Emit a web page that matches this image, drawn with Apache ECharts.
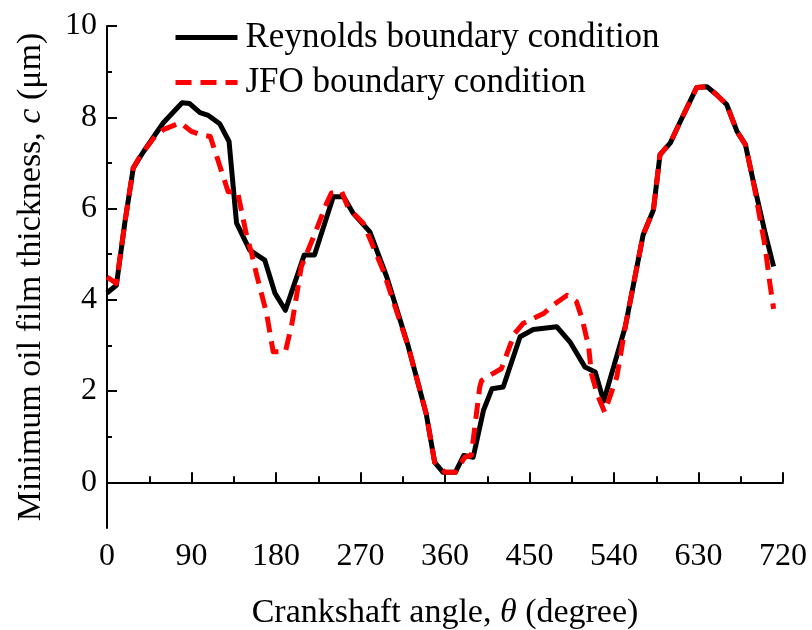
<!DOCTYPE html>
<html><head><meta charset="utf-8">
<script src="https://cdn.jsdelivr.net/npm/echarts@6/dist/echarts.min.js"></script>
<style>html,body{margin:0;padding:0;background:#fff}#c{width:812px;height:630px}</style>
</head><body><div id="c"></div>
<script>
const seriesNames = ['Reynolds boundary condition', 'JFO boundary condition'];
const reyAngle = [0,10,19,28,39,60,80,88,99,108,120,130,138,152,168,179,190,210,221,241,252,262,280,298,321,340,349,358,371,380,390,401,410,422,440,454,479,493,509,520,529,552,571,582,589,600,610,628,639,649,660,671,680,688,701,710];
const reyThick = [4.15,4.32,5.69,6.89,7.25,7.88,8.32,8.30,8.10,8.04,7.86,7.47,5.68,5.09,4.87,4.14,3.77,4.98,4.98,6.26,6.26,5.90,5.49,4.50,2.97,1.50,0.44,0.22,0.22,0.59,0.55,1.58,2.05,2.09,3.19,3.35,3.41,3.08,2.53,2.42,1.78,3.41,5.42,5.97,7.18,7.44,7.88,8.65,8.67,8.50,8.28,7.69,7.40,6.63,5.46,4.73];
const jfoAngle = [0,10,19,28,35,51,60,78,90,99,110,129,139,149,154,159,170,177,190,197,207,220,234,239,250,257,273,294,321,340,349,360,371,381,388,397,399,408,420,434,443,465,475,490,500,506,513,516,522,530,543,552,571,582,589,600,610,628,639,649,660,671,680,688,701,706,710];
const jfoThick = [4.50,4.36,5.69,6.89,7.14,7.58,7.73,7.88,7.69,7.62,7.58,6.37,6.37,5.38,5.02,4.58,3.70,2.86,2.86,3.48,4.73,5.38,6.12,6.34,6.37,6.01,5.68,4.65,2.97,1.50,0.44,0.22,0.22,0.55,0.59,2.09,2.23,2.35,2.49,3.26,3.48,3.70,3.88,4.10,3.96,3.59,2.97,2.38,1.94,1.54,2.31,3.41,5.42,5.97,7.18,7.44,7.88,8.65,8.67,8.50,8.28,7.69,7.40,6.63,5.16,4.36,3.80];
const yTicks = [0, 2, 4, 6, 8, 10];
const yMinorTicks = [1, 3, 5, 7, 9];

const FONT = 'Liberation Serif';
const pair = (xs, ys) => xs.map((x, i) => [x, ys[i]]);

const chart = echarts.init(document.getElementById('c'), null, {renderer: 'canvas'});
chart.setOption({
  animation: false,
  backgroundColor: '#fff',
  textStyle: {fontFamily: FONT},
  grid: {left: 107, right: 29, top: 26, bottom: 102, containLabel: false, outerBoundsMode: 'none'},
  legend: {
    orient: 'vertical', left: 168, top: 15, itemWidth: 62, itemHeight: 14, itemGap: 10,
    itemStyle: {opacity: 0},
    lineStyle: {width: 5},
    textStyle: {fontFamily: FONT, fontSize: 35, color: '#000', lineHeight: 35, padding: [0, 0, 0, 3]},
    data: seriesNames
  },
  xAxis: {
    type: 'value', min: 0, max: 720, interval: 90,
    name: 'Crankshaft angle, {i|θ} (degree)', nameLocation: 'middle', nameGap: 68,
    nameTextStyle: {fontFamily: FONT, fontSize: 34, color: '#000', rich: {i: {fontFamily: FONT, fontSize: 34, fontStyle: 'italic', color: '#000'}}},
    axisLine: {lineStyle: {color: '#000', width: 2}},
    axisTick: {inside: true, length: 10, lineStyle: {color: '#000', width: 2}},
    minorTick: {show: true, splitNumber: 2, length: 6, lineStyle: {color: '#000', width: 2}},
    axisLabel: {fontFamily: FONT, fontSize: 32, color: '#000', margin: 13},
    splitLine: {show: false}
  },
  yAxis: [{
    type: 'value', min: -1, max: 10,
    name: 'Minimum oil film thickness, {i|c} (μm)', nameLocation: 'middle', nameGap: 59, nameRotate: 90,
    nameTextStyle: {fontFamily: FONT, fontSize: 34, color: '#000', rich: {i: {fontFamily: FONT, fontSize: 34, fontStyle: 'italic', color: '#000'}}},
    axisLine: {show: true, lineStyle: {color: '#000', width: 2}},
    axisTick: {show: true, inside: true, length: 10, customValues: yTicks, lineStyle: {color: '#000', width: 2}},
    axisLabel: {fontFamily: FONT, fontSize: 32, color: '#000', margin: 10, customValues: yTicks},
    splitLine: {show: false}
  }, {
    type: 'value', min: -1, max: 10, position: 'left', offset: 0,
    axisLine: {show: false},
    axisTick: {show: true, inside: true, length: 5, customValues: yMinorTicks, lineStyle: {color: '#000', width: 2}},
    axisLabel: {show: false},
    splitLine: {show: false}
  }],
  series: [{
    name: seriesNames[0], type: 'line', yAxisIndex: 0, symbol: 'none', showSymbol: false,
    data: pair(reyAngle, reyThick),
    lineStyle: {color: '#000', width: 5, join: 'round'},
    itemStyle: {color: '#000'}, z: 2
  }, {
    name: seriesNames[1], type: 'line', yAxisIndex: 0, symbol: 'none', showSymbol: false,
    data: pair(jfoAngle, jfoThick),
    lineStyle: {color: '#ff0000', width: 5, type: [16, 9], join: 'round'},
    itemStyle: {color: '#ff0000'}, z: 3
  }]
});
</script></body></html>
